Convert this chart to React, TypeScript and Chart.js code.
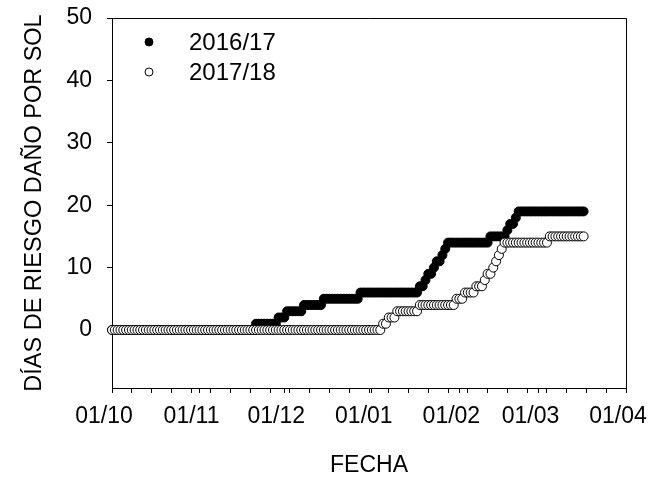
import { useEffect, useRef } from 'react';
import { Chart, registerables } from 'chart.js';

Chart.register(...registerables);

// ---- data (x = days since 1 October) ----
const seriesNames = ['2016/17', '2017/18'];

const values2016_17 = [
  0, 0, 0, 0, 0, 0, 0, 0, 0, 0,
  0, 0, 0, 0, 0, 0, 0, 0, 0, 0,
  0, 0, 0, 0, 0, 0, 0, 0, 0, 0,
  0, 0, 0, 0, 0, 0, 0, 0, 0, 0,
  0, 0, 0, 0, 0, 0, 0, 0, 0, 0,
  0, 1, 1, 1, 1, 1, 1, 1, 1, 2,
  2, 2, 3, 3, 3, 3, 3, 3, 4, 4,
  4, 4, 4, 4, 4, 5, 5, 5, 5, 5,
  5, 5, 5, 5, 5, 5, 5, 5, 6, 6,
  6, 6, 6, 6, 6, 6, 6, 6, 6, 6,
  6, 6, 6, 6, 6, 6, 6, 6, 6, 7,
  7, 8, 9, 9, 10, 11, 11, 12, 13, 14,
  14, 14, 14, 14, 14, 14, 14, 14, 14, 14,
  14, 14, 14, 14, 15, 15, 15, 15, 15, 15,
  16, 17, 17, 18, 19, 19, 19, 19, 19, 19,
  19, 19, 19, 19, 19, 19, 19, 19, 19, 19,
  19, 19, 19, 19, 19, 19, 19, 19,
];

const values2017_18 = [
  0, 0, 0, 0, 0, 0, 0, 0, 0, 0,
  0, 0, 0, 0, 0, 0, 0, 0, 0, 0,
  0, 0, 0, 0, 0, 0, 0, 0, 0, 0,
  0, 0, 0, 0, 0, 0, 0, 0, 0, 0,
  0, 0, 0, 0, 0, 0, 0, 0, 0, 0,
  0, 0, 0, 0, 0, 0, 0, 0, 0, 0,
  0, 0, 0, 0, 0, 0, 0, 0, 0, 0,
  0, 0, 0, 0, 0, 0, 0, 0, 0, 0,
  0, 0, 0, 0, 0, 0, 0, 0, 0, 0,
  0, 0, 0, 0, 0, 0, 1, 1, 2, 2,
  2, 3, 3, 3, 3, 3, 3, 3, 3, 4,
  4, 4, 4, 4, 4, 4, 4, 4, 4, 4,
  4, 4, 5, 5, 5, 6, 6, 6, 6, 7,
  7, 7, 8, 9, 9, 10, 11, 12, 13, 14,
  14, 14, 14, 14, 14, 14, 14, 14, 14, 14,
  14, 14, 14, 14, 14, 15, 15, 15, 15, 15,
  15, 15, 15, 15, 15, 15, 15, 15,
];

const monthTickDays = [0, 31, 61, 92, 123, 151, 182];
const monthTickLabels = ['01/10', '01/11', '01/12', '01/01', '01/02', '01/03', '01/04'];
const weekTickDays = [
  0, 7, 14, 21, 28, 35, 42, 49, 56, 63, 70, 77, 84, 91,
  98, 105, 112, 119, 126, 133, 140, 147, 154, 161, 168, 175, 182,
];
const yTickValues = [0, 10, 20, 30, 40, 50];
const xTitle = 'FECHA';
const yTitle = 'DÍAS DE RIESGO DAÑO POR SOL';

const FONT = "'Liberation Sans', Arial, sans-serif";

const framePlugin = {
  id: 'frameAndLegend',
  afterDraw(chart: any) {
    const { ctx, chartArea } = chart;
    const { left, right, top, bottom } = chartArea;
    ctx.save();
    ctx.strokeStyle = '#000';
    ctx.lineWidth = 1;
    ctx.beginPath();
    ctx.moveTo(left, top + 0.5);
    ctx.lineTo(right + 0.5, top + 0.5);
    ctx.lineTo(right + 0.5, bottom);
    ctx.stroke();

    // legend
    const ds = chart.data.datasets;
    const rows = [ds[0], ds[1]];
    rows.forEach((d: any, i: number) => {
      const cy = top + 24 + i * 30;
      const cx = left + 37;
      ctx.beginPath();
      ctx.arc(cx, cy, 4, 0, Math.PI * 2);
      ctx.fillStyle = d.backgroundColor;
      ctx.fill();
      ctx.lineWidth = 1;
      ctx.strokeStyle = d.borderColor;
      ctx.stroke();
      ctx.fillStyle = '#000';
      ctx.font = `24px ${FONT}`;
      ctx.textAlign = 'left';
      ctx.textBaseline = 'middle';
      ctx.fillText(d.label, left + 77, cy + 1);
    });
    ctx.restore();
  },
};

export default function App() {
  const canvasRef = useRef<HTMLCanvasElement | null>(null);

  useEffect(() => {
    document.body.style.margin = '0';
    const canvas = canvasRef.current;
    if (!canvas) return;
    Chart.defaults.font.family = FONT;
    Chart.defaults.color = '#000';

    const allXTicks = Array.from(new Set([...weekTickDays, ...monthTickDays])).sort((a, b) => a - b);

    const chart = new Chart(canvas, {
      type: 'scatter',
      data: {
        datasets: [
          {
            label: seriesNames[0],
            data: values2016_17.map((v, i) => ({ x: i, y: v })),
            backgroundColor: '#000',
            borderColor: '#000',
            borderWidth: 1,
            pointRadius: 4.5,
            showLine: false,
            clip: false as any,
            order: 1,
          },
          {
            label: seriesNames[1],
            data: values2017_18.map((v, i) => ({ x: i, y: v })),
            backgroundColor: '#fff',
            borderColor: '#000',
            borderWidth: 1,
            pointRadius: 4.5,
            showLine: false,
            clip: false as any,
            order: 0,
          },
        ],
      },
      options: {
        responsive: false,
        animation: false,
        events: [],
        layout: { padding: { left: 0, top: 18, right: 24, bottom: 0 } },
        plugins: {
          legend: { display: false },
          tooltip: { enabled: false },
        },
        scales: {
          x: {
            type: 'linear',
            min: 0,
            max: 182,
            afterBuildTicks: (scale: any) => {
              scale.ticks = allXTicks.map((v) => ({ value: v }));
            },
            afterFit: (scale: any) => {
              scale.height = 89;
              scale.paddingLeft = 0;
              scale.paddingRight = 0;
            },
            ticks: {
              autoSkip: false,
              maxRotation: 0,
              minRotation: 0,
              padding: 10,
              labelOffset: -8,
              font: { size: 23 },
              color: '#000',
              callback: (value: any) => {
                const idx = monthTickDays.indexOf(Number(value));
                return idx >= 0 ? monthTickLabels[idx] : '';
              },
            },
            grid: {
              drawOnChartArea: false,
              drawTicks: true,
              tickLength: 5,
              tickColor: '#000',
            },
            border: { display: true, color: '#000', width: 1 },
            title: {
              display: true,
              text: xTitle,
              font: { size: 23, lineHeight: 1 },
              color: '#000',
              padding: { top: 0, bottom: 0 },
            },
          },
          y: {
            type: 'linear',
            min: -9.3,
            max: 50,
            afterBuildTicks: (scale: any) => {
              scale.ticks = yTickValues.map((v) => ({ value: v }));
            },
            afterFit: (scale: any) => {
              scale.width = 112;
              scale.paddingTop = 0;
              scale.paddingBottom = 0;
            },
            ticks: {
              padding: 15,
              font: { size: 23 },
              color: '#000',
            },
            grid: {
              drawOnChartArea: false,
              drawTicks: true,
              tickLength: 5,
              tickColor: '#000',
            },
            border: { display: true, color: '#000', width: 1 },
            title: {
              display: true,
              text: yTitle,
              font: { size: 23.5, lineHeight: 1.2 },
              color: '#000',
              padding: { top: 20, bottom: 0 },
            },
          },
        },
      },
      plugins: [framePlugin],
    });

    return () => chart.destroy();
  }, []);

  return <canvas ref={canvasRef} width={650} height={477} style={{ display: 'block' }} />;
}
